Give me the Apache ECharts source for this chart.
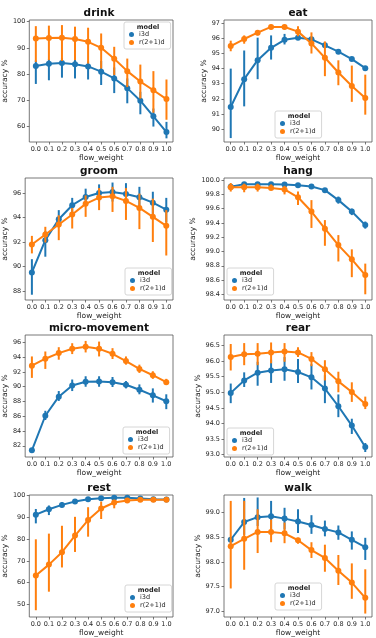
<!DOCTYPE html>
<html>
<head>
<meta charset="utf-8">
<script src="https://cdn.jsdelivr.net/npm/echarts@6/dist/echarts.min.js"></script>
<style>
html,body{margin:0;padding:0;background:#fff}
#chart{width:376px;height:638px}
</style>
</head>
<body>
<div id="chart"></div>
<script>
const flowWeights = ['0.0','0.1','0.2','0.3','0.4','0.5','0.6','0.7','0.8','0.9','1.0']
const models = ['i3d','r(2+1)d']

// mean accuracy and CI low/high per class
const drinkI3d      = [83.1, 83.9, 84.2, 83.7, 82.9, 80.9, 78.3, 74.6, 69.8, 63.8, 57.8]
const drinkI3dLow   = [76.2, 77.6, 78.6, 78.3, 77.9, 75.8, 72.7, 68.8, 64.6, 59.9, 55.4]
const drinkI3dHigh  = [85.2, 85.6, 86.2, 85.6, 84.8, 85.0, 82.5, 78.3, 73.2, 66.8, 61.7]
const drinkR21d     = [93.6, 93.8, 93.9, 93.4, 92.3, 90.0, 85.8, 81.1, 77.1, 73.8, 70.4]
const drinkR21dLow  = [84.6, 85.3, 85.0, 85.3, 84.0, 82.1, 79.6, 75.0, 70.6, 65.2, 62.5]
const drinkR21dHigh = [98.3, 98.5, 98.7, 98.1, 97.7, 95.5, 90.4, 85.9, 83.6, 81.1, 77.9]

const eatI3d      = [91.46, 93.3, 94.56, 95.38, 95.91, 96.05, 95.94, 95.54, 95.12, 94.63, 94.03]
const eatI3dLow   = [89.4, 91.5, 93.3, 94.6, 95.6, 95.9, 95.7, 95.4, 95.0, 94.5, 93.9]
const eatI3dHigh  = [94.0, 95.2, 96.05, 96.2, 96.3, 96.2, 96.1, 95.7, 95.2, 94.7, 94.15]
const eatR21d     = [95.49, 95.96, 96.38, 96.76, 96.76, 96.45, 95.67, 94.72, 93.74, 92.85, 92.06]
const eatR21dLow  = [95.15, 95.65, 96.2, 96.6, 96.6, 96.15, 95.0, 93.5, 92.9, 91.8, 90.95]
const eatR21dHigh = [95.85, 96.2, 96.55, 96.9, 96.9, 96.8, 96.4, 95.8, 94.55, 94.2, 93.6]

const groomI3d      = [89.52, 92.15, 93.86, 95.0, 95.67, 96.0, 96.08, 95.92, 95.65, 95.21, 94.64]
const groomI3dLow   = [87.7, 90.8, 93.2, 94.3, 95.0, 95.3, 95.3, 95.1, 94.7, 94.2, 93.6]
const groomI3dHigh  = [90.6, 92.9, 94.6, 95.6, 96.35, 96.7, 96.85, 96.8, 96.5, 96.1, 95.6]
const groomR21d     = [91.8, 92.61, 93.43, 94.24, 95.11, 95.62, 95.73, 95.35, 94.78, 94.05, 93.32]
const groomR21dLow  = [91.07, 91.96, 92.15, 93.1, 94.05, 94.6, 94.45, 93.8, 93.05, 92.0, 90.9]
const groomR21dHigh = [92.5, 93.24, 94.18, 94.78, 95.8, 96.4, 96.5, 96.4, 95.95, 95.54, 94.6]

const hangI3d      = [99.907, 99.944, 99.944, 99.944, 99.94, 99.93, 99.91, 99.86, 99.72, 99.56, 99.37]
const hangI3dLow   = [99.89, 99.93, 99.93, 99.93, 99.925, 99.915, 99.895, 99.84, 99.67, 99.51, 99.32]
const hangI3dHigh  = [99.92, 99.955, 99.955, 99.955, 99.95, 99.945, 99.925, 99.88, 99.77, 99.6, 99.42]
const hangR21d     = [99.9, 99.9, 99.9, 99.89, 99.87, 99.76, 99.56, 99.32, 99.09, 98.89, 98.67]
const hangR21dLow  = [99.84, 99.83, 99.84, 99.86, 99.8, 99.65, 99.33, 99.08, 98.86, 98.64, 98.4]
const hangR21dHigh = [99.96, 99.95, 99.95, 99.94, 99.92, 99.84, 99.72, 99.44, 99.23, 99.03, 98.83]

const microI3d      = [81.38, 86.06, 88.64, 90.16, 90.65, 90.69, 90.6, 90.25, 89.58, 88.82, 88.02]
const microI3dLow   = [81.2, 85.48, 88.06, 89.4, 89.98, 89.98, 89.95, 89.76, 88.96, 87.84, 86.95]
const microI3dHigh  = [81.6, 86.73, 89.4, 90.96, 91.4, 91.4, 91.3, 90.75, 90.3, 89.76, 88.96]
const microR21d     = [92.83, 93.77, 94.53, 95.11, 95.38, 95.11, 94.44, 93.46, 92.39, 91.54, 90.6]
const microR21dLow  = [91.18, 92.39, 93.64, 94.4, 94.62, 94.08, 93.73, 92.97, 91.85, 91.05, 90.3]
const microR21dHigh = [94.08, 94.75, 95.33, 95.87, 96.18, 96.09, 95.2, 94.08, 92.97, 92.08, 91.05]

const rearI3d      = [94.98, 95.38, 95.63, 95.7, 95.74, 95.65, 95.48, 95.12, 94.55, 93.93, 93.24]
const rearI3dLow   = [94.65, 95.17, 95.21, 95.3, 95.37, 95.3, 95.09, 94.65, 94.2, 93.66, 93.08]
const rearI3dHigh  = [95.28, 95.64, 95.98, 96.05, 96.13, 96.07, 95.9, 95.55, 94.93, 94.15, 93.37]
const rearR21d     = [96.13, 96.22, 96.24, 96.28, 96.31, 96.28, 96.07, 95.74, 95.35, 95.01, 94.62]
const rearR21dLow  = [95.7, 95.87, 95.87, 95.93, 95.98, 96.13, 95.84, 95.38, 95.0, 94.69, 94.46]
const rearR21dHigh = [96.55, 96.58, 96.58, 96.6, 96.58, 96.45, 96.29, 96.03, 95.66, 95.32, 94.86]

const restI3d      = [91.18, 93.65, 95.67, 97.21, 98.3, 98.76, 98.9, 98.9, 98.6, 98.3, 98.1]
const restI3dLow   = [87.2, 91.0, 94.6, 96.4, 97.7, 98.4, 98.6, 98.6, 98.3, 98.0, 97.8]
const restI3dHigh  = [93.8, 95.4, 96.9, 98.1, 98.9, 99.1, 99.2, 99.2, 98.9, 98.6, 98.4]
const restR21d     = [63.3, 68.3, 74.0, 81.6, 88.7, 94.0, 96.75, 97.7, 98.0, 98.0, 98.0]
const restR21dLow  = [47.4, 55.9, 67.0, 74.1, 81.1, 89.2, 94.1, 96.75, 97.5, 97.6, 97.6]
const restR21dHigh = [79.9, 82.5, 86.1, 90.2, 94.6, 97.2, 98.0, 98.6, 98.5, 98.4, 98.4]

const walkI3d      = [98.45, 98.81, 98.91, 98.93, 98.88, 98.82, 98.75, 98.67, 98.6, 98.45, 98.3]
const walkI3dLow   = [98.42, 98.55, 98.73, 98.62, 98.66, 98.59, 98.57, 98.52, 98.45, 98.25, 98.04]
const walkI3dHigh  = [98.48, 99.3, 99.31, 99.24, 99.1, 99.07, 98.95, 98.84, 98.74, 98.62, 98.49]
const walkR21d     = [98.32, 98.47, 98.61, 98.61, 98.58, 98.44, 98.24, 98.08, 97.82, 97.58, 97.27]
const walkR21dLow  = [97.46, 97.84, 98.18, 98.4, 98.38, 98.37, 98.08, 97.8, 97.53, 97.25, 96.95]
const walkR21dHigh = [99.24, 99.24, 99.07, 98.86, 98.8, 98.49, 98.4, 98.35, 98.14, 97.97, 97.85]

const colors = ['#1f77b4', '#ff7f0e']
const font = 'DejaVu Sans'
const textColor = '#262626'

// one entry per subplot: series + axis range + where it sits
const panels = [
  { name: 'drink', i3d: [drinkI3d, drinkI3dLow, drinkI3dHigh], r21d: [drinkR21d, drinkR21dLow, drinkR21dHigh],
    min: 54.0, max: 100.65, split: 5, digits: 0, left: 25, top: 20, legend: [124, 22], nameGap: 16 },
  { name: 'eat', i3d: [eatI3d, eatI3dLow, eatI3dHigh], r21d: [eatR21d, eatR21dLow, eatR21dHigh],
    min: 89.14, max: 97.22, split: 8, digits: 0, left: 224, top: 20, legend: [275, 111], nameGap: 14 },
  { name: 'groom', i3d: [groomI3d, groomI3dLow, groomI3dHigh], r21d: [groomR21d, groomR21dLow, groomR21dHigh],
    min: 87.27, max: 97.22, split: 5, digits: 0, left: 25, top: 178, legend: [125, 268], nameGap: 15 },
  { name: 'hang', i3d: [hangI3d, hangI3dLow, hangI3dHigh], r21d: [hangR21d, hangR21dLow, hangR21dHigh],
    min: 98.32, max: 100.03, split: 8, digits: 1, left: 224, top: 178, legend: [227, 268], nameGap: 25 },
  { name: 'micro-movement', i3d: [microI3d, microI3dLow, microI3dHigh], r21d: [microR21d, microR21dLow, microR21dHigh],
    min: 80.48, max: 96.98, split: 8, digits: 0, left: 25, top: 335, legend: [123, 427], nameGap: 16 },
  { name: 'rear', i3d: [rearI3d, rearI3dLow, rearI3dHigh], r21d: [rearR21d, rearR21dLow, rearR21dHigh],
    min: 92.92, max: 96.84, split: 8, digits: 1, left: 224, top: 335, legend: [227, 428], nameGap: 20 },
  { name: 'rest', i3d: [restI3d, restI3dLow, restI3dHigh], r21d: [restR21d, restR21dLow, restR21dHigh],
    min: 44.3, max: 100.2, split: 5, digits: 0, left: 25, top: 495, legend: [125, 585], nameGap: 17 },
  { name: 'walk', i3d: [walkI3d, walkI3dLow, walkI3dHigh], r21d: [walkR21d, walkR21dLow, walkR21dHigh],
    min: 96.88, max: 99.36, split: 5, digits: 1, left: 224, top: 495, legend: [275, 583], nameGap: 20 }
]
const boxWidth = 148
const boxHeight = 122

const errorBar = (color) => (params, api) => {
  const p1 = api.coord([api.value(0), api.value(1)])
  const p2 = api.coord([api.value(0), api.value(2)])
  return {
    type: 'line',
    shape: { x1: p1[0], y1: p1[1], x2: p2[0], y2: p2[1] },
    style: { stroke: color, lineWidth: 2 }
  }
}

const grid = [], xAxis = [], yAxis = [], series = [], title = [], legend = [], graphic = []

panels.forEach((p, k) => {
  grid.push({ left: p.left, top: p.top, width: boxWidth, height: boxHeight, show: true, borderColor: '#555', borderWidth: 0.8 })
  xAxis.push({
    type: 'category', gridIndex: k, data: flowWeights,
    name: 'flow_weight', nameLocation: 'middle', nameGap: 11,
    nameTextStyle: { fontFamily: font, fontSize: 7.5, color: textColor },
    axisLine: { show: false },
    axisTick: { show: true, alignWithLabel: true, length: 2.5, lineStyle: { color: '#555', width: 0.8 } },
    axisLabel: { interval: 0, margin: 4, fontFamily: font, fontSize: 6.5, color: textColor },
    splitLine: { show: false }
  })
  yAxis.push({
    type: 'value', gridIndex: k, min: p.min, max: p.max, splitNumber: p.split,
    name: 'accuracy %', nameLocation: 'middle', nameGap: p.nameGap, nameRotate: 90,
    nameTextStyle: { fontFamily: font, fontSize: 7.5, color: textColor },
    axisLine: { show: false },
    axisTick: { show: true, length: 2.5, lineStyle: { color: '#555', width: 0.8 } },
    axisLabel: {
      margin: 4, fontFamily: font, fontSize: 6.5, color: textColor,
      showMinLabel: false, showMaxLabel: false,
      formatter: (v) => v.toFixed(p.digits)
    },
    splitLine: { show: false }
  })
  ;[p.i3d, p.r21d].forEach((s, m) => {
    series.push({
      name: models[m] + ' ci', type: 'custom', xAxisIndex: k, yAxisIndex: k,
      renderItem: errorBar(colors[m]),
      data: flowWeights.map((w, i) => [i, s[1][i], s[2][i]]),
      z: 2 + m * 2
    })
    series.push({
      name: models[m], type: 'line', xAxisIndex: k, yAxisIndex: k,
      data: s[0], symbol: 'circle', symbolSize: 6,
      itemStyle: { color: colors[m] },
      lineStyle: { color: colors[m], width: 2 },
      z: 3 + m * 2
    })
  })
  title.push({
    text: p.name, left: p.left + boxWidth / 2, top: p.top - 6.5, padding: 0,
    textAlign: 'center', textVerticalAlign: 'middle',
    textStyle: { fontFamily: font, fontSize: 10.5, fontWeight: 'bold', color: '#111' }
  })
  legend.push({
    data: models, left: p.legend[0], top: p.legend[1],
    orient: 'vertical', icon: 'circle', itemWidth: 5, itemHeight: 5, itemGap: 1,
    padding: [9, 6, 3, 5],
    backgroundColor: 'rgba(255,255,255,0.85)', borderColor: '#ccc', borderWidth: 0.8, borderRadius: 2,
    textStyle: { fontFamily: font, fontSize: 6.5, color: textColor }
  })
  graphic.push({
    type: 'text', x: p.legend[0] + 24, y: p.legend[1] + 5, z: 100,
    style: { text: 'model', fontFamily: font, fontSize: 6.5, fontWeight: 'bold', fill: textColor, align: 'center', verticalAlign: 'middle' }
  })
})

const myChart = echarts.init(document.getElementById('chart'))
myChart.setOption({
  backgroundColor: '#fff',
  animation: false,
  grid, xAxis, yAxis, series, title, legend, graphic
})
</script>
</body>
</html>
